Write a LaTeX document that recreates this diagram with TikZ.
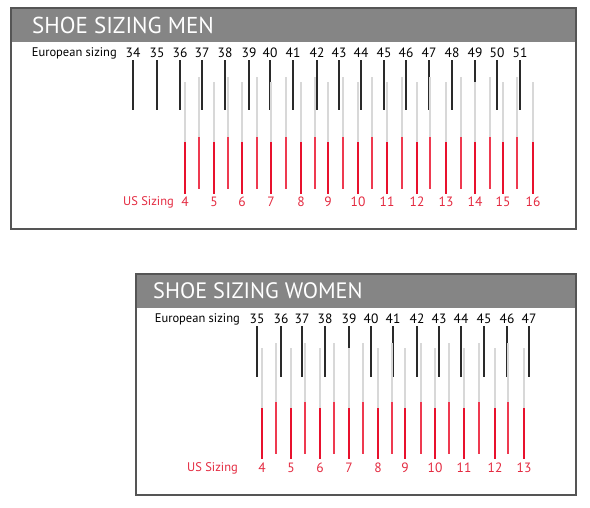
\documentclass[tikz,border=0pt]{standalone}
\usepackage{fontspec}
\setmainfont{PT Sans}
\definecolor{hdr}{HTML}{858585}
\definecolor{frame}{HTML}{555555}
\definecolor{tick}{HTML}{2A2A2A}
\definecolor{lgray}{HTML}{D8D8D8}
\definecolor{rred}{HTML}{E8112D}
\definecolor{tred}{HTML}{E42A40}
\definecolor{pred}{HTML}{EE3A50}
\begin{document}
\begin{tikzpicture}[x=1pt,y=-1pt,
  panel/.style={draw=frame,line width=1.4pt,fill=white},
  band/.style={fill=hdr},
  title/.style={anchor=west,text=white,font=\fontsize{23}{23}\selectfont,inner sep=0},
  eurlbl/.style={font=\fontsize{12.5}{13}\selectfont,inner sep=0,text=black},
  eurnum/.style={font=\fontsize{13.5}{14}\selectfont,inner sep=0,text=black},
  uslbl/.style={font=\fontsize{12.5}{13}\selectfont,inner sep=0,text=tred},
  usnum/.style={font=\fontsize{13.5}{14}\selectfont,inner sep=0,text=tred},
  blk/.style={draw=tick,line width=1.3pt},
  gthick/.style={draw=lgray,line width=2pt},
  rthick/.style={draw=rred,line width=2.4pt},
  gthin/.style={draw=lgray,line width=1.4pt},
  rthin/.style={draw=pred,line width=1.4pt}]
\useasboundingbox (0,0) rectangle (590,507);
% ---------- MEN ----------
\path[panel] (11,8) rectangle (576,229);
\path[band] (11,8) rectangle (576,42);
\draw[frame,line width=1.4pt] (11,8) rectangle (576,229);
\node[title] (mt) at (32,25) {SHOE SIZING MEN};
\node[eurlbl,anchor=east] (me) at (117,53) {European sizing};
\foreach \n/\x in {34/133,35/157,36/180,37/202,38/225,39/249,40/270,41/293,42/317,43/339,44/361,45/384,46/406,47/429,48/452,49/475,50/497,51/520}{
  \node[eurnum] (men\n) at (\x,53) {\n};
  \draw[blk] (\x,60) -- (\x,110);
}
\foreach \x in {199,228,257,286,315,343,372,402,430,461,490,517}{
  \draw[gthin] (\x,77) -- (\x,137);
  \draw[rthin] (\x,137) -- (\x,189);
}
\node[uslbl,anchor=east] (mu) at (174,202) {US Sizing};
\foreach \n/\x in {4/185,5/214,6/242,7/271,8/301,9/328,10/358,11/387,12/417,13/446,14/475,15/503,16/533}{
  \draw[gthick] (\x,82) -- (\x,142);
  \draw[rthick] (\x,142) -- (\x,194);
  \node[usnum] (mus\n) at (\x,202) {\n};
}
% ---------- WOMEN ----------
\path[panel] (136,274) rectangle (576,495);
\path[band] (136,274) rectangle (576,308);
\draw[frame,line width=1.4pt] (136,274) rectangle (576,495);
\node[title,font=\fontsize{22.3}{22}\selectfont] (wt) at (153,291) {SHOE SIZING WOMEN};
\node[eurlbl,anchor=east] (we) at (240,319) {European sizing};
\foreach \n/\x in {35/257,36/281,37/302,38/325,39/349,40/371,41/393,42/417,43/439,44/461,45/484,46/507,47/529}{
  \node[eurnum] (wen\n) at (\x,319) {\n};
  \draw[blk] (\x,326) -- (\x,377);
}
\foreach \x in {276,305,334,363,392,421,449,479,508}{
  \draw[gthin] (\x,343) -- (\x,402);
  \draw[rthin] (\x,402) -- (\x,454);
}
\node[uslbl,anchor=east] (wu) at (238,468) {US Sizing};
\foreach \n/\x in {4/262,5/291,6/320,7/349,8/378,9/405,10/435,11/464,12/495,13/524}{
  \draw[gthick] (\x,348) -- (\x,408);
  \draw[rthick] (\x,408) -- (\x,459);
  \node[usnum] (wus\n) at (\x,468) {\n};
}
\end{tikzpicture}
\end{document}
